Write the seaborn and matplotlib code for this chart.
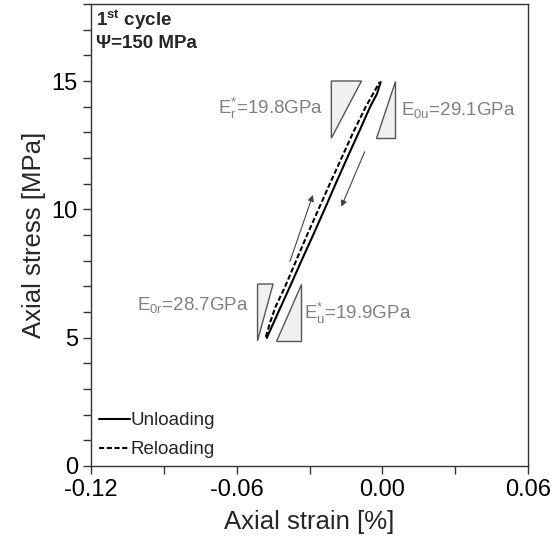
import pandas as pd
import numpy as np
import seaborn as sns
import matplotlib.pyplot as plt
from matplotlib.patches import Polygon
from matplotlib.ticker import MultipleLocator

# Curvas (deformación axial [%], tensión axial [MPa])
strain_unload = [-0.0007, -0.0022, -0.0050, -0.0097, -0.0145, -0.0192, -0.0238, -0.0285, -0.0333, -0.0380, -0.0428, -0.0476]
stress_unload = [14.96, 14.50, 14.00, 13.00, 12.00, 11.00, 10.00, 9.00, 8.00, 7.00, 6.00, 4.99]

strain_reload = [-0.0480, -0.0462, -0.0440, -0.0400, -0.0355, -0.0310, -0.0263, -0.0216, -0.0168, -0.0120, -0.0068, -0.0011]
stress_reload = [5.03, 5.60, 6.20, 7.00, 8.00, 9.00, 10.00, 11.00, 12.00, 13.00, 14.00, 14.96]

# Triángulos de pendiente (vértices en coordenadas de datos)
tri_er = [(-0.0210, 15.0), (-0.0086, 15.0), (-0.0210, 12.77)]
tri_e0u = [(0.0051, 15.0), (0.0051, 12.77), (-0.0028, 12.77)]
tri_e0r = [(-0.0514, 7.09), (-0.0450, 7.09), (-0.0514, 4.88)]
tri_eu = [(-0.0336, 7.09), (-0.0336, 4.88), (-0.0436, 4.88)]

# Etiquetas de los módulos
mod_labels = ["E$^{*}_{r}$=19.8GPa", "E$_{0u}$=29.1GPa", "E$_{0r}$=28.7GPa", "E$^{*}_{u}$=19.9GPa"]
mod_pos = [(-0.0242, 13.95), (0.0078, 13.87), (-0.0549, 6.29), (-0.0324, 5.96)]
mod_ha = ["right", "left", "right", "left"]

# Flechas de sentido de carga
arrow_up = ((-0.0381, 7.96), (-0.0286, 10.56))
arrow_down = ((-0.0073, 12.24), (-0.0169, 10.10))

df = pd.concat([
    pd.DataFrame({"strain": strain_unload, "stress": stress_unload, "Curva": "Unloading"}),
    pd.DataFrame({"strain": strain_reload, "stress": stress_reload, "Curva": "Reloading"}),
])

sns.set_theme(style="ticks")
plt.rcParams["font.family"] = ["Liberation Sans", "DejaVu Sans"]
plt.rcParams["mathtext.fontset"] = "custom"
plt.rcParams["mathtext.rm"] = "Liberation Sans"
plt.rcParams["mathtext.it"] = "Liberation Sans"
plt.rcParams["mathtext.bf"] = "Liberation Sans:bold"

fig = plt.figure(figsize=(5.6, 5.37), dpi=100)
ax = fig.add_axes([91 / 560, 1 - 466 / 537, (528 - 91) / 560, (466 - 4) / 537])

sns.lineplot(data=df, x="strain", y="stress", style="Curva", color="black",
             sort=False, estimator=None, linewidth=1.5,
             dashes={"Unloading": "", "Reloading": (2.5, 1.2)}, ax=ax)

for tri in [tri_er, tri_e0u, tri_e0r, tri_eu]:
    ax.add_patch(Polygon(tri, closed=True, facecolor="#f0f0f0",
                         edgecolor="#555555", linewidth=1.0, zorder=1))

for lab, pos, ha in zip(mod_labels, mod_pos, mod_ha):
    ax.text(pos[0], pos[1], lab, ha=ha, va="center", fontsize=13.5, color="#808080")

for start, end in [arrow_up, arrow_down]:
    ax.annotate("", xy=end, xytext=start,
                arrowprops=dict(arrowstyle="-|>", color="#444444", lw=0.8,
                                mutation_scale=9, shrinkA=0, shrinkB=0))

ax.text(0.012, 0.952, "1$^{\\mathbf{st}}$ cycle", transform=ax.transAxes,
        fontsize=13.5, fontweight="bold", va="baseline", ha="left")
ax.text(0.012, 0.905, "\u03a8=150 MPa", transform=ax.transAxes,
        fontsize=13.5, fontweight="bold", va="baseline", ha="left")

ax.set_xlim(-0.12, 0.06)
ax.set_ylim(0, 18)
ax.xaxis.set_major_locator(MultipleLocator(0.06))
ax.xaxis.set_minor_locator(MultipleLocator(0.03))
ax.yaxis.set_major_locator(MultipleLocator(5))
ax.yaxis.set_minor_locator(MultipleLocator(1))
ax.set_xticks([-0.12, -0.06, 0.0, 0.06])
ax.set_xticklabels(["-0.12", "-0.06", "0.00", "0.06"])
ax.tick_params(which="both", direction="out", length=6, width=1, colors="#333333",
               labelcolor="black", labelsize=17)
for sp in ax.spines.values():
    sp.set_visible(True)
    sp.set_color("#333333")
    sp.set_linewidth(1.0)

ax.set_xlabel("Axial strain [%]", fontsize=18.5, labelpad=6)
ax.set_ylabel("Axial stress [MPa]", fontsize=18.5, labelpad=4)

handles, labels = ax.get_legend_handles_labels()
ax.legend(handles, labels, loc="lower left", bbox_to_anchor=(0.0, 0.0),
          frameon=False, fontsize=13.5, handlelength=1.7, handletextpad=0.0,
          labelspacing=0.65, borderaxespad=0.0)

fig.savefig("out.png", dpi=100)
